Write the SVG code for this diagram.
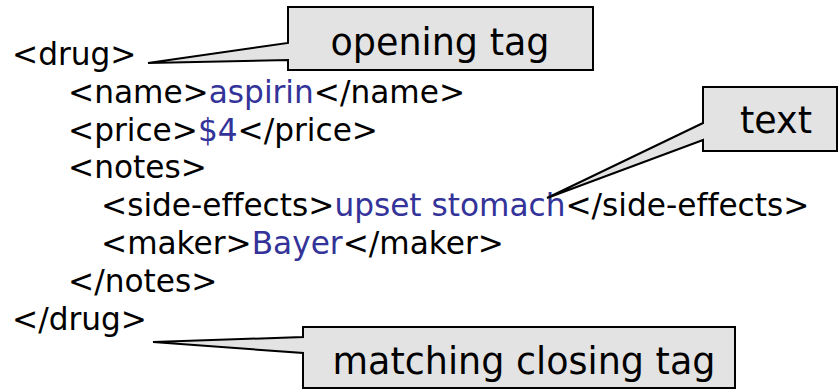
<svg xmlns="http://www.w3.org/2000/svg" width="840" height="392" viewBox="0 0 840 392">
  <style>
    .code { font-family: "DejaVu Sans", Verdana, sans-serif; font-size: 31.2px; fill: #000000; font-variant-ligatures: none; }
    .val { fill: #333399; }
    .callout { fill: #e3e3e3; stroke: #000000; stroke-width: 2; stroke-linejoin: miter; }
    .label { font-family: "DejaVu Sans", Verdana, sans-serif; font-size: 36.5px; fill: #000000; text-anchor: middle; font-variant-ligatures: none; }
  </style>
  <rect width="840" height="392" fill="#ffffff"/>

  <!-- XML listing -->
  <g id="listing">
    <text class="code" x="12" y="65">&lt;drug&gt;</text>
    <text class="code" x="68" y="102.8">&lt;name&gt;<tspan class="val">aspirin</tspan>&lt;/name&gt;</text>
    <text class="code" x="68" y="140.6">&lt;price&gt;<tspan class="val">$4</tspan>&lt;/price&gt;</text>
    <text class="code" x="68" y="178.4">&lt;notes&gt;</text>
    <text class="code" x="101" y="216.2">&lt;side-effects&gt;<tspan class="val">upset stomach</tspan>&lt;/side-effects&gt;</text>
    <text class="code" x="101" y="254">&lt;maker&gt;<tspan class="val">Bayer</tspan>&lt;/maker&gt;</text>
    <text class="code" x="68" y="291.8">&lt;/notes&gt;</text>
    <text class="code" x="12" y="329.6">&lt;/drug&gt;</text>
  </g>

  <!-- Callouts: box outline with a pointer tail -->
  <g id="callout-opening">
    <path class="callout" d="M288,7 H593 V70 H288 V60 L148,63 L288,43 Z"/>
    <text class="label" x="440" y="55">opening tag</text>
  </g>
  <g id="callout-text">
    <path class="callout" d="M703,87 H837 V151 H703 V140 L547,198 L703,123 Z"/>
    <text class="label" x="776" y="133">text</text>
  </g>
  <g id="callout-closing">
    <path class="callout" d="M303,327 H735 V388 H303 V353 L153,342 L303,337 Z"/>
    <text class="label" x="524" y="374">matching closing tag</text>
  </g>
</svg>
